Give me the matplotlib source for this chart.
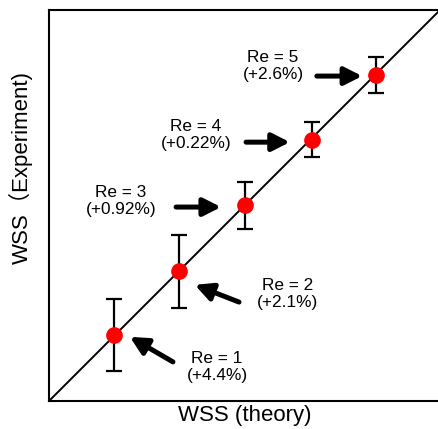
import matplotlib.pyplot as plt

# data (normalised units)
re_labels = ['Re = 1', 'Re = 2', 'Re = 3', 'Re = 4', 'Re = 5']
deviation = ['(+4.4%)', '(+2.1%)', '(+0.92%)', '(+0.22%)', '(+2.6%)']
wss_theory = [0.166, 0.332, 0.501, 0.673, 0.836]
wss_exp = [0.169, 0.332, 0.501, 0.668, 0.834]
wss_err = [0.093, 0.093, 0.060, 0.045, 0.045]

plt.rcParams['font.family'] = ['Liberation Sans', 'Noto Sans CJK JP', 'DejaVu Sans']

fig = plt.figure(figsize=(4.38, 4.29), dpi=100)
ax = fig.add_axes([49 / 438, 28 / 429, 391 / 438, 391 / 429])

ax.plot([0, 1], [0, 1], color='black', lw=1.4, zorder=1)
ax.errorbar(wss_theory, wss_exp, yerr=wss_err, fmt='none', ecolor='black',
            elinewidth=1.6, capsize=6, capthick=1.6, zorder=2)
ax.plot(wss_theory, wss_exp, 'o', color='#ff0000', markersize=11, zorder=3)

# label text position and arrow tail/head, in axes units
layout = [
    ((0.430, 0.087), (0.317, 0.100), (0.207, 0.164)),
    ((0.611, 0.274), (0.486, 0.253), (0.373, 0.297)),
    ((0.184, 0.512), (0.325, 0.496), (0.440, 0.496)),
    ((0.376, 0.680), (0.504, 0.662), (0.616, 0.662)),
    ((0.573, 0.857), (0.685, 0.831), (0.801, 0.831)),
]
for lab, dev, (txt, tail, head) in zip(re_labels, deviation, layout):
    ax.text(txt[0], txt[1], f'{lab}\n{dev}', ha='center', va='center',
            fontsize=12.4, linespacing=1.15)
    ax.annotate('', xy=head, xytext=tail,
                arrowprops=dict(arrowstyle='-|>,head_length=0.75,head_width=0.38',
                                lw=3.6, color='black', shrinkA=0, shrinkB=0,
                                mutation_scale=14))

ax.set_xlim(0, 1)
ax.set_ylim(0, 1)
ax.set_xticks([])
ax.set_yticks([])
for s in ax.spines.values():
    s.set_linewidth(1.5)

ax.set_xlabel('WSS (theory)', fontsize=16, labelpad=3)
ax.set_ylabel('WSS（Experiment)', fontsize=16)
ax.yaxis.set_label_coords(-0.041, 0.596)

plt.savefig('out.png', dpi=100)
